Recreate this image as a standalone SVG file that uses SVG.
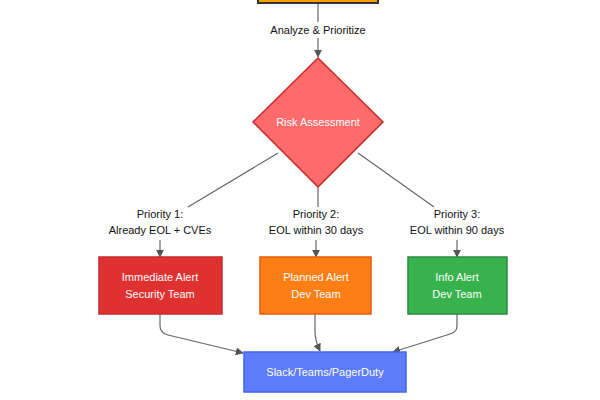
<svg xmlns="http://www.w3.org/2000/svg" width="600" height="400" viewBox="0 0 600 400">
<defs>
<marker id="arr" viewBox="0 0 10 10" refX="9" refY="5" markerWidth="8" markerHeight="8" markerUnits="userSpaceOnUse" orient="auto">
<path d="M0,0 L10,5 L0,10 z" fill="#555"/>
</marker>
<style>
.edge{fill:none;stroke:#666;stroke-width:1.2}
.lbl{font-family:"Liberation Sans",Arial,sans-serif;font-size:11px;fill:#111;text-anchor:middle}
.nt{font-family:"Liberation Sans",Arial,sans-serif;font-size:11px;fill:#fff;text-anchor:middle}
</style>
</defs>
<rect width="600" height="400" fill="#fff"/>
<g id="connectors">
<path class="edge" d="M318,4 V57" marker-end="url(#arr)"/>
<rect x="270" y="22" width="96" height="16" fill="#fff"/>
<text class="lbl" x="318" y="34">Analyze &amp; Prioritize</text>
<path class="edge" d="M278,153 L188,207"/>
<path class="edge" d="M318,187 V207"/>
<path class="edge" d="M358,153 L434,207"/>
<text class="lbl" x="160" y="218">Priority 1:</text>
<text class="lbl" x="160" y="234">Already EOL + CVEs</text>
<text class="lbl" x="316" y="218">Priority 2:</text>
<text class="lbl" x="316" y="234">EOL within 30 days</text>
<text class="lbl" x="457" y="218">Priority 3:</text>
<text class="lbl" x="457" y="234">EOL within 90 days</text>
<path class="edge" d="M160,240 V257" marker-end="url(#arr)"/>
<path class="edge" d="M316,240 V257" marker-end="url(#arr)"/>
<path class="edge" d="M457,240 V257" marker-end="url(#arr)"/>
<path class="edge" d="M160,314 V326 Q160,333 168,335 L243,353" marker-end="url(#arr)"/>
<path class="edge" d="M315,314 V332 Q315,340 320,351" marker-end="url(#arr)"/>
<path class="edge" d="M457,314 V326 Q457,332 450,334 L393,352" marker-end="url(#arr)"/>
</g>
<g id="source">
<rect x="258" y="-20" width="120" height="23" fill="#f59f00" stroke="#333" stroke-width="2"/>
</g>
<g id="risk">
<polygon points="318,58 383,122 318,187 253,122" fill="#ff6b6b" stroke="#c92a2a" stroke-width="1.5"/>
<text class="nt" x="318" y="126">Risk Assessment</text>
</g>
<g id="immediate">
<rect x="99" y="257" width="123" height="57" fill="#e03131" stroke="#c92a2a" stroke-width="1.5"/>
<text class="nt" x="160" y="281">Immediate Alert</text>
<text class="nt" x="160" y="298">Security Team</text>
</g>
<g id="planned">
<rect x="260" y="257" width="111" height="57" fill="#fd7e14" stroke="#e8590c" stroke-width="1.5"/>
<text class="nt" x="316" y="281">Planned Alert</text>
<text class="nt" x="316" y="298">Dev Team</text>
</g>
<g id="info">
<rect x="408" y="257" width="99" height="57" fill="#37b24d" stroke="#2b8a3e" stroke-width="1.5"/>
<text class="nt" x="457" y="281">Info Alert</text>
<text class="nt" x="457" y="298">Dev Team</text>
</g>
<g id="notify">
<rect x="244" y="352" width="162" height="40" fill="#5c7cfa" stroke="#4263eb" stroke-width="1.5"/>
<text class="nt" x="325" y="376">Slack/Teams/PagerDuty</text>
</g>
</svg>
